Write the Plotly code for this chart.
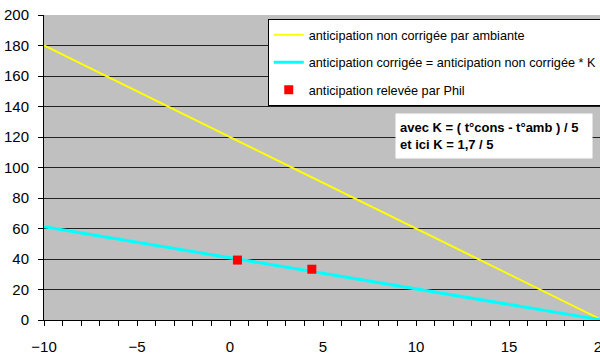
import plotly.graph_objects as go

# data
x_line = [-10, 20]
y_non_corrigee = [180, 0]
y_corrigee = [61.2, 0]
x_phil = [0.4, 4.4]
y_phil = [39.3, 33.3]

names = ["anticipation non corrigée par ambiante",
         "anticipation corrigée = anticipation non corrigée * K",
         "anticipation relevée par Phil"]

FONT = "Liberation Sans, Arial, sans-serif"

fig = go.Figure()
fig.add_trace(go.Scatter(x=x_line, y=y_non_corrigee, mode="lines", name=names[0],
                         legendgroup="a", line=dict(color="#FFFF00", width=2)))
fig.add_trace(go.Scatter(x=x_line, y=y_corrigee, mode="lines", name=names[1],
                         legendgroup="b", line=dict(color="#00FFFF", width=3)))
fig.add_trace(go.Scatter(x=x_phil, y=y_phil, mode="markers", name=names[2],
                         legendgroup="c",
                         marker=dict(color="#FF0000", symbol="square", size=9)))

fig.update_layout(
    width=604, height=356,
    margin=dict(l=44, r=2, t=15, b=36, autoexpand=False),
    paper_bgcolor="white",
    plot_bgcolor="#C0C0C0",
    font=dict(family=FONT, size=15, color="black"),
    showlegend=True,
    legend=dict(x=0.401, xanchor="left",
                y=0.987, yanchor="top",
                bgcolor="white", bordercolor="black", borderwidth=1,
                font=dict(family=FONT, size=12.7, color="black"),
                tracegroupgap=8, itemwidth=30),
    annotations=[dict(
        text="<b>avec K = ( t°cons - t°amb ) / 5<br>et ici K = 1,7 / 5</b>",
        xref="paper", yref="paper", x=0.629, y=0.679,
        xanchor="left", yanchor="top", showarrow=False, align="left",
        bgcolor="white", borderpad=4, width=188, height=36,
        font=dict(family=FONT, size=13, color="black"))],
)

fig.update_xaxes(range=[-10, 20], dtick=5, tick0=0, showgrid=False, zeroline=False,
                 showline=True, linecolor="black", linewidth=1,
                 ticks="outside", ticklen=5, tickcolor="black",
                 ticklabelstandoff=8, ticklabeloverflow="allow",
                 minor=dict(dtick=1, ticks="outside", ticklen=5, tickcolor="black"))
fig.update_yaxes(range=[0, 200], dtick=20, showgrid=True, gridcolor="#222222",
                 gridwidth=1, zeroline=False,
                 showline=True, linecolor="black", linewidth=1,
                 ticks="outside", ticklen=5, tickcolor="black",
                 ticklabelstandoff=6, ticklabeloverflow="allow")

post = ("document.documentElement.style.margin='0';"
        "document.body.style.margin='0';"
        "document.documentElement.style.overflow='hidden';"
        "document.body.style.overflow='hidden';"
        "window.scrollTo(0,0);")

fig.write_html("out.html", post_script=post, config={"displayModeBar": False})
